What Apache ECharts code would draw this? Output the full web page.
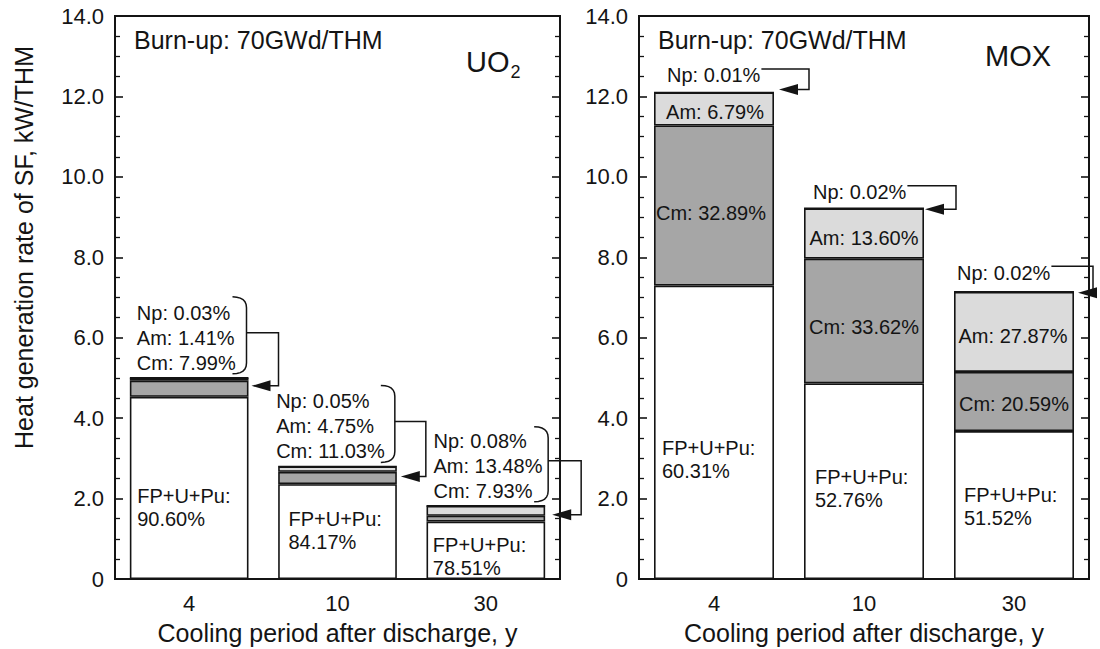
<!DOCTYPE html>
<html><head><meta charset="utf-8">
<script src="https://cdn.jsdelivr.net/npm/echarts@6/dist/echarts.min.js"></script>
<style>html,body{margin:0;padding:0;background:#fff}#c{width:1100px;height:649px}</style>
</head><body><div id="c"></div>
<script>
// ---------- data ----------
const cooling = ['4', '10', '30'];
const yMin = 0, yMax = 14, yStep = 2;
// total heat generation rate, kW/THM
const uo2Total = [5.00, 2.80, 1.82];
const moxTotal = [12.10, 9.22, 7.14];
// shares, %
const uo2FP = [90.60, 84.17, 78.51];
const uo2Cm = [7.99, 11.03, 7.93];
const uo2Am = [1.41, 4.75, 13.48];
const uo2Np = [0.03, 0.05, 0.08];
const moxFP = [60.31, 52.76, 51.52];
const moxCm = [32.89, 33.62, 20.59];
const moxAm = [6.79, 13.60, 27.87];
const moxNp = [0.01, 0.02, 0.02];

// ---------- style / layout ----------
const INK = '#141414';
const FONT = '"Liberation Sans", Arial, Helvetica, sans-serif';
const COL = { fp: '#ffffff', cm: '#a6a6a6', am: '#dbdbdb', np: '#ffffff' };
const GRIDS = [
  { left: 115, top: 16, width: 445, height: 563 },
  { left: 639, top: 16, width: 450, height: 563 }
];
const fpOff = [[[-3, 20], [0, -1], [-4, 6]], [[-3, 27], [0, 7], [-1, 1]]];
const amOff = [[1, 3], [0, 4], [-1, 4]];
const cmOff = [[-3, 7], [0, 6], [0, 2]];

function seg(total, share) { return total.map((t, i) => t * share[i] / 100); }

const chart = echarts.init(document.getElementById('c'), null, { renderer: 'svg' });

function xAxis(g) {
  return {
    type: 'category', gridIndex: g, data: cooling,
    axisTick: { show: false },
    axisLine: { show: true, onZero: false, lineStyle: { color: INK, width: 2 } },
    axisLabel: { fontSize: 22, margin: 13, color: INK, fontFamily: FONT },
    name: 'Cooling period after discharge, y', nameLocation: 'middle', nameGap: 41,
    nameTextStyle: { fontSize: 25, color: INK, fontFamily: FONT }
  };
}
function yAxis(g, side, name) {
  const a = {
    type: 'value', gridIndex: g, min: yMin, max: yMax, interval: yStep, position: side,
    axisLine: { show: true, lineStyle: { color: INK, width: 2 } },
    axisTick: { show: true, inside: true, length: 8, lineStyle: { color: INK, width: 1.6 } },
    minorTick: { show: true, splitNumber: 4, length: 5, lineStyle: { color: INK, width: 1.3 } },
    splitLine: { show: false },
    axisLabel: {
      show: side === 'left', margin: 11, fontSize: 22, color: INK, fontFamily: FONT,
      formatter: v => v === 0 ? '0' : v.toFixed(1)
    }
  };
  if (name) {
    a.name = name; a.nameLocation = 'middle'; a.nameGap = 79; a.nameRotate = 90;
    a.nameTextStyle = { fontSize: 25, color: INK, fontFamily: FONT, padding: [0, 0, 0, 100] };
  }
  return a;
}

function fpLabel(share) {
  return {
    show: true, position: 'inside',
    formatter: p => '{a|FP+U+Pu:}\n{a|' + share[p.dataIndex].toFixed(2) + '%}',
    rich: { a: { width: 98, align: 'left', fontSize: 20, lineHeight: 23, fontFamily: FONT, color: INK } }
  };
}
function pctLabel(prefix, share) {
  return {
    show: true, position: 'inside', fontSize: 20, fontFamily: FONT, color: INK,
    formatter: p => prefix + ': ' + share[p.dataIndex].toFixed(2) + '%'
  };
}
function bar(g, stack, name, vals, color, label, offs) {
  return {
    type: 'bar', name, stack, xAxisIndex: g, yAxisIndex: 2 * g, barWidth: '80%',
    itemStyle: { color, borderColor: INK, borderWidth: 1.6 },
    label: label || { show: false },
    emphasis: { disabled: true },
    data: vals.map((v, i) => offs ? { value: v, label: { offset: offs[i] } } : v)
  };
}

const option = {
  backgroundColor: '#ffffff',
  animation: false,
  grid: GRIDS.map(r => Object.assign({ show: true, borderColor: INK, borderWidth: 2, backgroundColor: 'transparent', containLabel: false, outerBoundsMode: 'none' }, r)),
  xAxis: [xAxis(0), xAxis(1)],
  yAxis: [yAxis(0, 'left', 'Heat generation rate of SF, kW/THM'), yAxis(0, 'right'), yAxis(1, 'left'), yAxis(1, 'right')],
  series: [
    bar(0, 'uo2', 'FP+U+Pu', seg(uo2Total, uo2FP), COL.fp, fpLabel(uo2FP), fpOff[0]),
    bar(0, 'uo2', 'Cm', seg(uo2Total, uo2Cm), COL.cm),
    bar(0, 'uo2', 'Am', seg(uo2Total, uo2Am), COL.am),
    bar(0, 'uo2', 'Np', seg(uo2Total, uo2Np), COL.np),
    bar(1, 'mox', 'FP+U+Pu', seg(moxTotal, moxFP), COL.fp, fpLabel(moxFP), fpOff[1]),
    bar(1, 'mox', 'Cm', seg(moxTotal, moxCm), COL.cm, pctLabel('Cm', moxCm), cmOff),
    bar(1, 'mox', 'Am', seg(moxTotal, moxAm), COL.am, pctLabel('Am', moxAm), amOff),
    bar(1, 'mox', 'Np', seg(moxTotal, moxNp), COL.np)
  ]
};
chart.setOption(option);

// ---------- annotations anchored to the axes ----------
const ctx = document.createElement('canvas').getContext('2d');
function tw(t, size) { ctx.font = size + 'px ' + FONT; return ctx.measureText(t).width; }
function P(g, i, v) { return chart.convertToPixel({ xAxisIndex: g, yAxisIndex: 2 * g }, [i, v]); }
function stackTop(total, arrs, i) { return total[i] * arrs.reduce((s, a) => s + a[i], 0) / 100; }
function quad(p0, c, p1, n) {
  const pts = [];
  for (let k = 0; k <= n; k++) {
    const t = k / n, u = 1 - t;
    pts.push([u * u * p0[0] + 2 * u * t * c[0] + t * t * p1[0], u * u * p0[1] + 2 * u * t * c[1] + t * t * p1[1]]);
  }
  return pts;
}
const LW = 1.5;
const gfx = [];
function arrow(tip, y) {
  gfx.push({ type: 'polygon', silent: true, shape: { points: [[tip, y], [tip + 19, y - 5.5], [tip + 19, y + 5.5]] }, style: { fill: INK } });
}
function txt(text, x, y, size, extra) {
  gfx.push({ type: 'text', silent: true, style: Object.assign({ text, x, y, align: 'left', verticalAlign: 'middle', fontSize: size, fontFamily: FONT, fill: INK }, extra || {}) });
}

// UO2 panel
const uo2TxtOff = [7, -2, 7], uo2BrOff = [-2, -2, 3], uo2BrTop = [81, 81, 79], uo2ConnX = [30, 29, 36], uo2ArrY = [8, 10, 9], uo2ArrTip = [3, 4, 7];
{
  const band = P(0, 1, 0)[0] - P(0, 0, 0)[0];
  for (let i = 0; i < cooling.length; i++) {
    const [cx, T] = P(0, i, stackTop(uo2Total, [uo2FP, uo2Cm, uo2Am, uo2Np], i));
    const L = cx - band * 0.4, R = cx + band * 0.4;
    const lines = ['Np: ' + uo2Np[i].toFixed(2) + '%', 'Am: ' + uo2Am[i].toFixed(2) + '%', 'Cm: ' + uo2Cm[i].toFixed(2) + '%'];
    txt(lines.join('\n'), L + uo2TxtOff[i], T - 40, 20, { lineHeight: 25 });
    const bx = R + uo2BrOff[i], bt = T - uo2BrTop[i], bb = T - 4, r = 11;
    const pts = quad([bx - 14, bt], [bx, bt], [bx, bt + r], 6).concat(quad([bx, bb - r], [bx, bb], [bx - 14, bb], 6));
    gfx.push({ type: 'polyline', silent: true, shape: { points: pts }, style: { stroke: INK, fill: null, lineWidth: LW } });
    const my = T - 45, cxn = R + uo2ConnX[i], ay = T + uo2ArrY[i], tip = R + uo2ArrTip[i];
    gfx.push({ type: 'polyline', silent: true, shape: { points: [[bx, my], [cxn, my], [cxn, ay], [tip + 16, ay]] }, style: { stroke: INK, fill: null, lineWidth: LW } });
    arrow(tip, ay);
  }
}
// MOX panel (Np labels)
const moxTxtOff = [13, 9, 3], moxTxtY = [17, 16, 19], moxConnX = [35, 32, 19], moxArrY = [-3, 1, 1], moxArrTip = [5, 1, 4];
{
  const band = P(1, 1, 0)[0] - P(1, 0, 0)[0];
  for (let i = 0; i < cooling.length; i++) {
    const [cx, T] = P(1, i, stackTop(moxTotal, [moxFP, moxCm, moxAm, moxNp], i));
    const L = cx - band * 0.4, R = cx + band * 0.4;
    const t = 'Np: ' + moxNp[i].toFixed(2) + '%';
    const tx = L + moxTxtOff[i], ty = T - moxTxtY[i];
    txt(t, tx, ty, 20);
    const ly = ty - 6.5, sx = tx + tw(t, 20) + 1, cxn = R + moxConnX[i], ay = T + moxArrY[i], tip = R + moxArrTip[i];
    gfx.push({ type: 'polyline', silent: true, shape: { points: [[sx, ly], [cxn, ly], [cxn, ay], [tip + 16, ay]] }, style: { stroke: INK, fill: null, lineWidth: LW } });
    arrow(tip, ay);
  }
}
// panel titles
txt('Burn-up: 70GWd/THM', GRIDS[0].left + 19, 40, 25);
txt('Burn-up: 70GWd/THM', GRIDS[1].left + 19, 40, 25);
txt('UO', 466, 62, 29);
txt('2', 466 + tw('UO', 29) + 1, 72, 18);
txt('MOX', 985, 56, 29);

chart.setOption({ graphic: { elements: gfx } });
</script></body></html>
